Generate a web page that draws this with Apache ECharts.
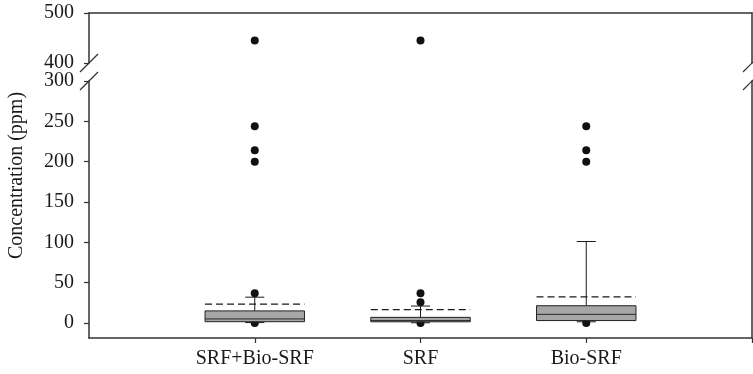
<!DOCTYPE html>
<html>
<head>
<meta charset="utf-8">
<script src="https://cdn.jsdelivr.net/npm/echarts@6/dist/echarts.min.js"></script>
<style>
html,body{margin:0;padding:0;background:#fff;}
#chart{width:753px;height:374px;}
</style>
</head>
<body>
<div id="chart"></div>
<script>
// ---- data ----
const categories = ['SRF+Bio-SRF', 'SRF', 'Bio-SRF'];
const whiskerLow = [0.5, 0.3, 1.5];
const q1 = [1.6, 1.5, 3];
const median = [5, 3, 10.7];
const q3 = [15, 7, 21.4];
const whiskerHigh = [32, 21, 101];
const mean = [23.5, 16.5, 32.5];
const outliers = [
  [445, 244, 214, 200, 37, 0],
  [445, 37, 25.6, 0],
  [244, 214, 200, 0]
];
const lowerTicks = [0, 50, 100, 150, 200, 250, 300];
const upperTicks = [400, 500];
const breakLow = 300;
const breakHigh = 400;

// ---- build ----
const boxData = categories.map((c, i) => [i + 1, whiskerLow[i], q1[i], median[i], q3[i], whiskerHigh[i], mean[i]]);
const upperPts = [], lowerPts = [];
outliers.forEach((arr, i) => arr.forEach(v => (v > breakLow ? upperPts : lowerPts).push([i + 1, v])));

const FONT = 'Liberation Serif';
const AX = '#333';
const TXT = '#1a1a1a';

function renderBox(params, api) {
  const x = api.value(0);
  const halfW = api.size([0.6, 0])[0] / 2;
  const capHalf = api.size([0.115, 0])[0] / 2;
  const c = v => api.coord([x, v]);
  const pWl = c(api.value(1)), pQ1 = c(api.value(2)), pMed = c(api.value(3)),
        pQ3 = c(api.value(4)), pWh = c(api.value(5)), pMean = c(api.value(6));
  const ls = { stroke: '#1a1a1a', lineWidth: 1 };
  return {
    type: 'group',
    children: [
      { type: 'line', shape: { x1: pQ3[0], y1: pQ3[1], x2: pWh[0], y2: pWh[1] }, style: ls },
      { type: 'line', shape: { x1: pWh[0] - capHalf, y1: pWh[1], x2: pWh[0] + capHalf, y2: pWh[1] }, style: ls },
      { type: 'line', shape: { x1: pQ1[0], y1: pQ1[1], x2: pWl[0], y2: pWl[1] }, style: ls },
      { type: 'line', shape: { x1: pWl[0] - capHalf, y1: pWl[1], x2: pWl[0] + capHalf, y2: pWl[1] }, style: ls },
      { type: 'rect', shape: { x: pQ3[0] - halfW, y: pQ3[1], width: halfW * 2, height: pQ1[1] - pQ3[1] },
        style: { fill: '#a6a6a6', stroke: '#222', lineWidth: 1 } },
      { type: 'line', shape: { x1: pMed[0] - halfW, y1: pMed[1], x2: pMed[0] + halfW, y2: pMed[1] }, style: { stroke: '#2a2a2a', lineWidth: 1 } },
      { type: 'line', shape: { x1: pMean[0] - halfW, y1: pMean[1], x2: pMean[0] + halfW, y2: pMean[1] },
        style: { stroke: '#1a1a1a', lineWidth: 1.2, lineDash: [7, 4] } }
    ]
  };
}

function renderBreak(params, api) {
  const p = api.coord([api.value(0), api.value(1)]);
  return { type: 'line', shape: { x1: p[0] - 9, y1: p[1] + 9, x2: p[0] + 9, y2: p[1] - 9 },
    style: { stroke: AX, lineWidth: 1.2 } };
}

const lblStyle = { color: TXT, fontFamily: FONT, fontSize: 20 };
const axLine = { show: true, onZero: false, lineStyle: { color: AX, width: 1.5 } };

const option = {
  animation: false,
  backgroundColor: '#fff',
  grid: [
    { left: 89, right: 1, top: 13, height: 50 },
    { left: 89, right: 1, top: 81, bottom: 36 }
  ],
  xAxis: [
    { gridIndex: 0, type: 'value', min: 0, max: 4, position: 'top',
      axisLine: axLine,
      axisTick: { show: false }, axisLabel: { show: false }, splitLine: { show: false } },
    { gridIndex: 1, type: 'value', min: 0, max: 4, interval: 1, position: 'bottom',
      axisLine: axLine,
      axisTick: { show: true, length: 5, customValues: [1, 2, 3, 4], lineStyle: { color: AX, width: 1.2 } },
      axisLabel: Object.assign({ show: true, margin: 11, customValues: [1, 2, 3],
        formatter: v => categories[Math.round(v) - 1] || '' }, lblStyle),
      splitLine: { show: false } }
  ],
  yAxis: [
    { gridIndex: 0, type: 'value', min: breakHigh, max: 500, position: 'left',
      axisLine: axLine,
      axisTick: { show: true, length: 5, customValues: upperTicks, lineStyle: { color: AX, width: 1.2 } },
      axisLabel: Object.assign({ show: true, margin: 15, customValues: upperTicks }, lblStyle),
      splitLine: { show: false } },
    { gridIndex: 0, type: 'value', min: breakHigh, max: 500, position: 'right',
      axisLine: axLine,
      axisTick: { show: false }, axisLabel: { show: false }, splitLine: { show: false } },
    { gridIndex: 1, type: 'value', min: -18.6, max: breakLow, position: 'left',
      axisLine: axLine,
      axisTick: { show: true, length: 5, customValues: lowerTicks, lineStyle: { color: AX, width: 1.2 } },
      axisLabel: Object.assign({ show: true, margin: 15, customValues: lowerTicks }, lblStyle),
      splitLine: { show: false } },
    { gridIndex: 1, type: 'value', min: -18.6, max: breakLow, position: 'right',
      axisLine: axLine,
      axisTick: { show: false }, axisLabel: { show: false }, splitLine: { show: false } }
  ],
  graphic: [
    { type: 'text', x: 17, y: 175.5, rotation: Math.PI / 2,
      style: { text: 'Concentration (ppm)', font: '20px "Liberation Serif"', fill: TXT, align: 'center', verticalAlign: 'middle' } }
  ],
  series: [
    { type: 'scatter', xAxisIndex: 0, yAxisIndex: 0, data: upperPts, symbolSize: 8,
      itemStyle: { color: '#111', opacity: 1 }, z: 1, silent: true },
    { type: 'scatter', xAxisIndex: 1, yAxisIndex: 2, data: lowerPts, symbolSize: 8,
      itemStyle: { color: '#111', opacity: 1 }, z: 1, silent: true },
    { type: 'custom', xAxisIndex: 1, yAxisIndex: 2, data: boxData, renderItem: renderBox, z: 3, silent: true },
    { type: 'custom', xAxisIndex: 0, yAxisIndex: 0, data: [[0, breakHigh], [4, breakHigh]], renderItem: renderBreak, clip: false, z: 4, silent: true },
    { type: 'custom', xAxisIndex: 1, yAxisIndex: 2, data: [[0, breakLow], [4, breakLow]], renderItem: renderBreak, clip: false, z: 4, silent: true }
  ]
};

const chart = echarts.init(document.getElementById('chart'), null, { renderer: 'canvas' });
chart.setOption(option);
</script>
</body>
</html>
